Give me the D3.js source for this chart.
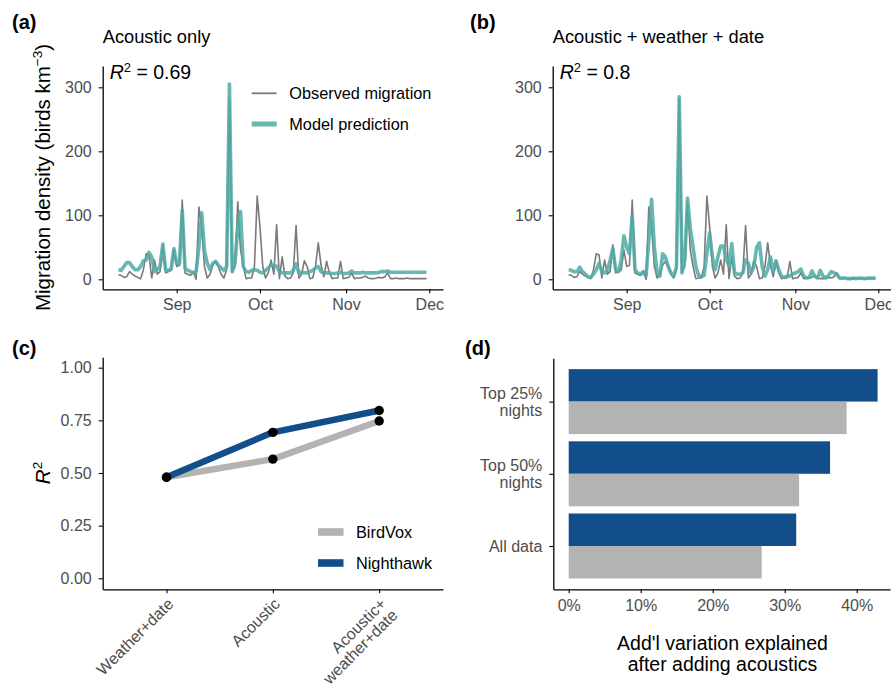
<!DOCTYPE html>
<html>
<head>
<meta charset="utf-8">
<script src="https://cdn.jsdelivr.net/npm/d3@7"></script>
<style>
body { margin: 0; background: #fff; }
text { font-family: "Liberation Sans", Arial, Helvetica, sans-serif; }
</style>
</head>
<body>
<svg id="chart" width="891" height="693"></svg>
<script>
// ---- data ----
var startDay = "2021-08-11"; // first night in the series, one value per night
var observed = [7,6,3,4,12,8,5,3,1,15, 40,38,2,30,8,12,54,10,12,14,
  46,20,22,124,10,8,6,12,0,113, 82,20,2,8,22,28,20,8,2,15,
  282,12,20,121,46,20,1,2,2,20, 130,82,20,2,10,30,8,85,1,35,
  5,1,2,10,84,2,8,29,20,1, 2,20,57,22,4,28,10,1,2,2,
  28,1,2,3,10,1,2,2,3,5, 2,1,1,2,3,2,4,10,1,1,
  2,1,1,1,2,1,1,1,1,1, 1,1];
var predAcoustic = [15,14,20,26,26,20,15,15,20,29, 30,42,35,12,15,20,55,15,14,16,
  48,25,25,108,17,14,12,10,13,50, 104,45,25,15,25,28,22,18,14,20,
  305,12,25,80,106,20,12,11,14,15, 14,11,10,14,18,22,22,20,12,10,
  10,10,10,14,24,10,11,10,10,12, 14,18,20,12,10,10,10,9,9,10,
  11,9,9,10,13,10,10,10,11,10, 10,10,10,10,11,12,12,13,11,11,
  11,11,11,11,11,11,11,11,11,11, 11,11];
var predFull = [15,14,12,12,19,12,8,4,3,8, 15,25,12,10,14,30,48,15,12,30,
  68,50,40,99,15,10,8,12,5,60, 125,50,10,5,40,35,20,10,5,20,
  285,10,30,127,80,50,20,6,4,6, 40,73,35,15,35,52,52,32,20,56,
  10,8,8,10,30,25,10,20,50,57, 20,5,15,35,12,29,15,5,3,5,
  5,8,10,12,16,5,2,3,13,5, 2,14,5,2,6,12,10,8,2,2,
  2,1,1,2,1,2,2,1,2,2, 2,2];
var r2Acoustic = "0.69", r2Full = "0.8";
var densityTicks = [0, 100, 200, 300];
var monthTicks = ["2021-09-01", "2021-10-01", "2021-11-01", "2021-12-01"];

var modelCats = ["Weather+date", "Acoustic", "Acoustic+\nweather+date"];
var birdvoxR2 = [0.48, 0.566, 0.747];
var nighthawkR2 = [0.48, 0.693, 0.797];
var r2Ticks = [0, 0.25, 0.5, 0.75, 1];

var subsetCats = ["Top 25%\nnights", "Top 50%\nnights", "All data"];
var birdvoxGain = [38.6, 32.0, 26.8];
var nighthawkGain = [42.9, 36.3, 31.6];
var pctTicks = [0, 10, 20, 30, 40];

var detectors = ["BirdVox", "Nighthawk"];

// ---- styles ----
var gray = "#b3b3b3", blue = "#124e8a", teal = "#4eaaa5", obsGray = "#7a7a7a";
var tickColor = "#4d4d4d";
var tickFont = 16;

var svg = d3.select("#chart");

var days = d3.utcDay.range(new Date(startDay), d3.utcDay.offset(new Date(startDay), observed.length));

const styleAxis = (g) => {
  g.select(".domain").attr("stroke", "#000").attr("stroke-width", 1.3);
  g.selectAll(".tick line").attr("stroke", "#000").attr("stroke-width", 1.1);
  g.selectAll(".tick text").attr("fill", tickColor).attr("font-size", tickFont)
    .style("font-family", "'Liberation Sans', Arial, sans-serif");
};

const drawTag = (x, y, s) => {
  svg.append("text").attr("x", x).attr("y", y).attr("font-size", 20)
    .attr("font-weight", "bold").text(s);
};

const drawR2 = (g, x, y, val) => {
  var t = g.append("text").attr("x", x).attr("y", y).attr("font-size", 19.5);
  t.append("tspan").attr("font-style", "italic").text("R");
  t.append("tspan").attr("font-size", 13).attr("dy", -7.5).text("2");
  t.append("tspan").attr("dy", 7.5).text(" = " + val);
};

// ---- panels (a) and (b): time series ----
const drawSeries = (opt) => {
  var g = svg.append("g");
  var sep1 = new Date(monthTicks[0]), dec1 = new Date(monthTicks[3]);

  var x = d3.scaleUtc().domain([sep1, dec1]).range([opt.sepX, opt.decX]);
  x.domain([x.invert(opt.left), x.invert(opt.right)]).range([opt.left, opt.right]);

  var y = d3.scaleLinear().domain([0, 300]).range([279.3, 87.3]);
  y.domain([y.invert(289.3), y.invert(66)]).range([289.3, 66]);

  g.append("g").attr("transform", "translate(0,289.3)")
    .call(d3.axisBottom(x).tickValues(monthTicks.map(d => new Date(d)))
      .tickFormat(d3.utcFormat("%b")).tickSize(4).tickSizeOuter(0).tickPadding(5))
    .call(styleAxis);
  g.append("g").attr("transform", "translate(" + opt.left + ",0)")
    .call(d3.axisLeft(y).tickValues(densityTicks).tickSize(4).tickSizeOuter(0).tickPadding(7))
    .call(styleAxis);

  var line = d3.line().x((d, i) => x(days[i])).y(d => y(d));

  g.append("path").datum(observed).attr("d", line)
    .attr("fill", "none").attr("stroke", obsGray).attr("stroke-width", 1.6)
    .attr("stroke-linejoin", "round");
  g.append("path").datum(opt.pred).attr("d", line)
    .attr("fill", "none").attr("stroke", teal).attr("stroke-width", 3.6)
    .attr("stroke-opacity", 0.85).attr("stroke-linejoin", "round");

  g.append("text").attr("x", opt.left).attr("y", 43).attr("font-size", 18.3).text(opt.title);
  drawR2(g, opt.left + 7, 79, opt.r2);
  return g;
};

var ga = drawSeries({ left: 102.7, right: 443, sepX: 176.7, decX: 429.3,
  pred: predAcoustic, title: "Acoustic only", r2: r2Acoustic });
drawSeries({ left: 552.7, right: 893, sepX: 626.7, decX: 878.3,
  pred: predFull, title: "Acoustic + weather + date", r2: r2Full });

// legend (a)
var legA = ga.append("g");
legA.append("line").attr("x1", 251.7).attr("x2", 276.7).attr("y1", 93.3).attr("y2", 93.3)
  .attr("stroke", obsGray).attr("stroke-width", 1.8);
legA.append("line").attr("x1", 251.7).attr("x2", 276.7).attr("y1", 124).attr("y2", 124)
  .attr("stroke", teal).attr("stroke-width", 5).attr("stroke-opacity", 0.85);
legA.append("text").attr("x", 289.3).attr("y", 93.3).attr("dy", "0.35em")
  .attr("font-size", 16.3).text("Observed migration");
legA.append("text").attr("x", 289.3).attr("y", 124).attr("dy", "0.35em")
  .attr("font-size", 16.3).text("Model prediction");

// y title (a)
var yt = svg.append("text").attr("transform", "translate(50,177.5) rotate(-90)")
  .attr("text-anchor", "middle").attr("font-size", 20.5);
yt.append("tspan").text("Migration density (birds km");
yt.append("tspan").attr("font-size", 13.5).attr("dy", -8).text("\u22123");
yt.append("tspan").attr("dy", 8).text(")");

drawTag(12, 29, "(a)");
drawTag(470, 29, "(b)");

// ---- panel (c): R2 by model ----
var gc = svg.append("g");
var xc = d3.scalePoint().domain(modelCats).range([102.7, 443]).padding(0.6);
var yc = d3.scaleLinear().domain([0, 1]).range([578.3, 367.7]);
yc.domain([yc.invert(589.3), yc.invert(357.3)]).range([589.3, 357.3]);

gc.append("g").attr("transform", "translate(0,589.3)")
  .call(d3.axisBottom(xc).tickSize(4).tickSizeOuter(0))
  .call(styleAxis)
  .call(g => g.selectAll(".tick text").remove());
gc.append("g").attr("transform", "translate(102.7,0)")
  .call(d3.axisLeft(yc).tickValues(r2Ticks).tickFormat(d3.format(".2f")).tickSize(4).tickSizeOuter(0).tickPadding(7))
  .call(styleAxis);

// rotated category labels
modelCats.forEach(c => {
  var t = gc.append("text")
    .attr("transform", "translate(" + (xc(c) + 8) + ",605) rotate(-45)")
    .attr("text-anchor", "end").attr("font-size", tickFont).attr("fill", tickColor);
  c.split("\n").forEach((l, i) => {
    t.append("tspan").attr("x", 0).attr("dy", i == 0 ? 0 : 16).text(l);
  });
});

var lineC = d3.line().x((d, i) => xc(modelCats[i])).y(d => yc(d));
[[birdvoxR2, gray], [nighthawkR2, blue]].forEach(s => {
  gc.append("path").datum(s[0]).attr("d", lineC).attr("fill", "none")
    .attr("stroke", s[1]).attr("stroke-width", 6.5).attr("stroke-linejoin", "round");
});
[birdvoxR2, nighthawkR2].forEach(s => {
  gc.selectAll(null).data(s).enter().append("circle")
    .attr("cx", (d, i) => xc(modelCats[i])).attr("cy", d => yc(d))
    .attr("r", 4.7).attr("fill", "#000");
});

// legend (c)
[[detectors[0], gray, 532], [detectors[1], blue, 563]].forEach(l => {
  gc.append("rect").attr("x", 318).attr("y", l[2] - 3.8).attr("width", 25.5).attr("height", 7.6).attr("fill", l[1]);
  gc.append("text").attr("x", 356).attr("y", l[2]).attr("dy", "0.35em").attr("font-size", 16.3).text(l[0]);
});

var yct = svg.append("text").attr("transform", "translate(50,473) rotate(-90)")
  .attr("text-anchor", "middle").attr("font-size", 20.5);
yct.append("tspan").attr("font-style", "italic").text("R");
yct.append("tspan").attr("font-size", 13.5).attr("dy", -8).text("2");

drawTag(12, 355, "(c)");

// ---- panel (d): added variation explained ----
var gd = svg.append("g");
var xd = d3.scaleLinear().domain([0, 40]).range([568.7, 856.7]);
xd.domain([xd.invert(553.3), xd.invert(890)]).range([553.3, 890]);
var yd = d3.scalePoint().domain(subsetCats).range([358.3, 589.3]).padding(0.6);
var barH = yd.step() * 0.45;

subsetCats.forEach((c, i) => {
  gd.append("rect").attr("x", xd(0)).attr("y", yd(c) - barH)
    .attr("width", xd(nighthawkGain[i]) - xd(0)).attr("height", barH).attr("fill", blue);
  gd.append("rect").attr("x", xd(0)).attr("y", yd(c))
    .attr("width", xd(birdvoxGain[i]) - xd(0)).attr("height", barH).attr("fill", gray);
});

gd.append("g").attr("transform", "translate(0,589.3)")
  .call(d3.axisBottom(xd).tickValues(pctTicks).tickFormat(d => d + "%").tickSize(4).tickSizeOuter(0).tickPadding(6))
  .call(styleAxis);
gd.append("g").attr("transform", "translate(553.3,0)")
  .call(d3.axisLeft(yd).tickSize(4).tickSizeOuter(0).tickPadding(7))
  .call(styleAxis)
  .call(g => g.selectAll(".tick text").each(function (d) {
    var t = d3.select(this), lines = d.split("\n");
    t.text(null).attr("dy", null);
    var off = -(lines.length - 1) * 17 / 2;
    lines.forEach((l, i) => {
      t.append("tspan").attr("x", -11).attr("dy", i == 0 ? (off + 5.5) : 17).text(l);
    });
  }));

var xdt = svg.append("text").attr("text-anchor", "middle").attr("font-size", 19.5);
xdt.append("tspan").attr("x", 722.5).attr("y", 650).text("Add'l variation explained");
xdt.append("tspan").attr("x", 722.5).attr("y", 671).text("after adding acoustics");

drawTag(465, 355, "(d)");
</script>
</body>
</html>
